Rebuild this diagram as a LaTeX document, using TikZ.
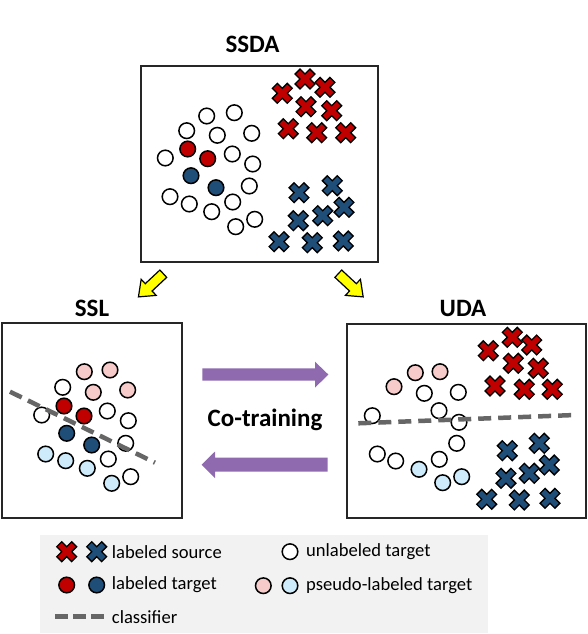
\documentclass[tikz,border=0pt]{standalone}
\usepackage{fontspec}
\setmainfont{Carlito}
\definecolor{cred}{HTML}{C00000}
\definecolor{cblue}{HTML}{1F4E79}
\definecolor{cpink}{HTML}{F8CBCB}
\definecolor{clblue}{HTML}{CDEBFA}
\definecolor{cpurple}{HTML}{8F6AAE}
\definecolor{cgray}{HTML}{666666}
\definecolor{clegend}{HTML}{F2F2F2}
\definecolor{cyel}{HTML}{FFFF00}
\tikzset{
  pics/xm/.style={code={\filldraw[fill=#1,draw=black,line width=1.3pt,line join=miter,rotate=45]
    (3.5,10.5) -- (3.5,3.5) -- (10.5,3.5) -- (10.5,-3.5) -- (3.5,-3.5) -- (3.5,-10.5) --
    (-3.5,-10.5) -- (-3.5,-3.5) -- (-10.5,-3.5) -- (-10.5,3.5) -- (-3.5,3.5) -- (-3.5,10.5) -- cycle;}},
  pics/dot/.style={code={\filldraw[fill=#1,draw=black,line width=1.5pt] (0,0) circle[radius=7.8pt];}},
  panel/.style={draw=black!85,line width=1.8pt,inner sep=0pt,fill=white},
  ttl/.style={font=\fontsize{25}{28}\selectfont\bfseries,inner sep=0pt},
  clf/.style={draw=cgray,line width=4.5pt,dash pattern=on 13pt off 7pt},
  leg/.style={font=\fontsize{18.6}{22}\selectfont,inner sep=0pt,anchor=west},
  yarrow/.style={fill=cyel,draw=black,line width=1.2pt,line join=miter},
  parrow/.style={fill=cpurple,draw=none},
}
\begin{document}
\begin{tikzpicture}[x=1pt,y=-1pt]
\useasboundingbox (0,0) rectangle (588,634);

% panels
\node[panel,minimum width=237pt,minimum height=196pt] (ssda) at (259.5,164) {};
\node[panel,minimum width=180pt,minimum height=195pt] (ssl) at (92,420.5) {};
\node[panel,minimum width=239pt,minimum height=194pt] (uda) at (466.5,421) {};

\node[ttl] (tssda) at (252.5,44.5) {SSDA};
\node[ttl] (tssl) at (92,308) {SSL};
\node[ttl] (tuda) at (463,308) {UDA};

% ---------- SSDA ----------
\foreach \x/\y in {206.7/116,234.3/112.7,186.7/130.7,217.3/135.3,251.7/133.3,165.3/158,232.3/154,252.7/164,170/196.7,189.3/204,211.7/211.7,232.7/202,249.3/186,235.7/226.7,254.7/219.3}
  \pic at (\x,\y) {dot=white};
\foreach \x/\y in {187.7/149,207.7/158.7} \pic at (\x,\y) {dot=cred};
\foreach \x/\y in {191/175.7,216/187.7} \pic at (\x,\y) {dot=cblue};
\foreach \x/\y in {282.3/93.3,305/79,325/87.3,306/106.7,331.7/110.7,288.3/128.7,316.7/132.7,345.7/132.7}
  \pic at (\x,\y) {xm=cred};
\foreach \x/\y in {299/192.7,332.3/185.7,344/207.3,322.7/215.7,298.3/220.7,279/241.7,312.3/242.7,343.3/241}
  \pic at (\x,\y) {xm=cblue};

% ---------- SSL ----------
\foreach \x/\y in {84.3/371.7,110/370,93.3/392.3,127.7/390} \pic at (\x,\y) {dot=cpink};
\foreach \x/\y in {62.7/387.3,41.7/415,107.3/411,128.3/420.7,125.7/443.3,108.3/459,130.7/476.7} \pic at (\x,\y) {dot=white};
\foreach \x/\y in {64/406,84/416} \pic at (\x,\y) {dot=cred};
\foreach \x/\y in {66.7/433.3,91.7/445} \pic at (\x,\y) {dot=cblue};
\foreach \x/\y in {45.7/454,65.7/460.7,87.3/468.3,111.7/483.3} \pic at (\x,\y) {dot=clblue};
\coordinate (sa) at (10,391.7);
\coordinate (sb) at (155,462.7);
\draw[clf] (sa) -- (sb);

% ---------- UDA ----------
\foreach \x/\y in {488.3/350.7,512.3/337.3,531.7/345,513.3/363.3,538.3/368.3,495/386,524.3/389.3,552.3/389.3}
  \pic at (\x,\y) {xm=cred};
\foreach \x/\y in {507.3/450.7,539.3/443.3,549.3/465,529.3/473.3,506/478.3,486.7/499.3,519.3/500,550/498.3}
  \pic at (\x,\y) {xm=cblue};
\foreach \x/\y in {415.3/372.7,440/371.7,394/386.7} \pic at (\x,\y) {dot=cpink};
\foreach \x/\y in {424.3/393.3,458.3/392.3,372.3/415.7,439/410.7,459/422.3,456.7/443.3,377.3/454,395.7/461,439.3/459.3} \pic at (\x,\y) {dot=white};
\foreach \x/\y in {419/469.3,442.7/482.7,461.7/476.7} \pic at (\x,\y) {dot=clblue};
\coordinate (ua) at (358.3,423.3);
\coordinate (ub) at (575,415);
\draw[clf] (ua) -- (ub);

% ---------- yellow arrows ----------
\begin{scope}[shift={(163.3,273.7)},rotate=-137]
  \filldraw[yarrow] (0,5) -- (20,5) -- (20,11) -- (34,0) -- (20,-11) -- (20,-5) -- (0,-5) -- cycle;
\end{scope}
\begin{scope}[shift={(338.3,273.7)},rotate=-43]
  \filldraw[yarrow] (0,5) -- (20,5) -- (20,11) -- (34,0) -- (20,-11) -- (20,-5) -- (0,-5) -- cycle;
\end{scope}

% ---------- purple arrows ----------
\fill[parrow] (202.3,368.3) -- (315,368.3) -- (315,361.7) -- (328.3,374.5) -- (315,387.7) -- (315,380.7) -- (202.3,380.7) -- cycle;
\fill[parrow] (327.7,457.7) -- (215,457.7) -- (215,451.5) -- (201.7,464.7) -- (215,478) -- (215,471.7) -- (327.7,471.7) -- cycle;
\node[font=\fontsize{25}{28}\selectfont\bfseries,inner sep=0pt] (cot) at (265,420) {Co-training};

% ---------- legend ----------
\node[fill=clegend,draw=none,minimum width=448pt,minimum height=98pt,inner sep=0pt] (legend) at (264,584) {};
\pic at (66.7,551.7) {xm=cred};
\pic at (96.7,551.7) {xm=cblue};
\node[leg] (l1) at (111.7,551.7) {labeled source};
\pic at (290,551.7) {dot=white};
\node[leg] (l2) at (306,551.7) {unlabeled target};
\pic at (66.7,585) {dot=cred};
\pic at (96.7,585) {dot=cblue};
\node[leg] (l3) at (111.7,585) {labeled target};
\pic at (263.3,585.7) {dot=cpink};
\pic at (290,585.7) {dot=clblue};
\node[leg] (l4) at (306,585.7) {pseudo-labeled target};
\coordinate (la) at (55,616.7);
\coordinate (lb) at (105,616.7);
\draw[draw=cgray,line width=4.5pt,dash pattern=on 13pt off 5pt] (la) -- (lb);
\node[leg] (l5) at (111.7,616.7) {classifier};
\end{tikzpicture}
\end{document}
